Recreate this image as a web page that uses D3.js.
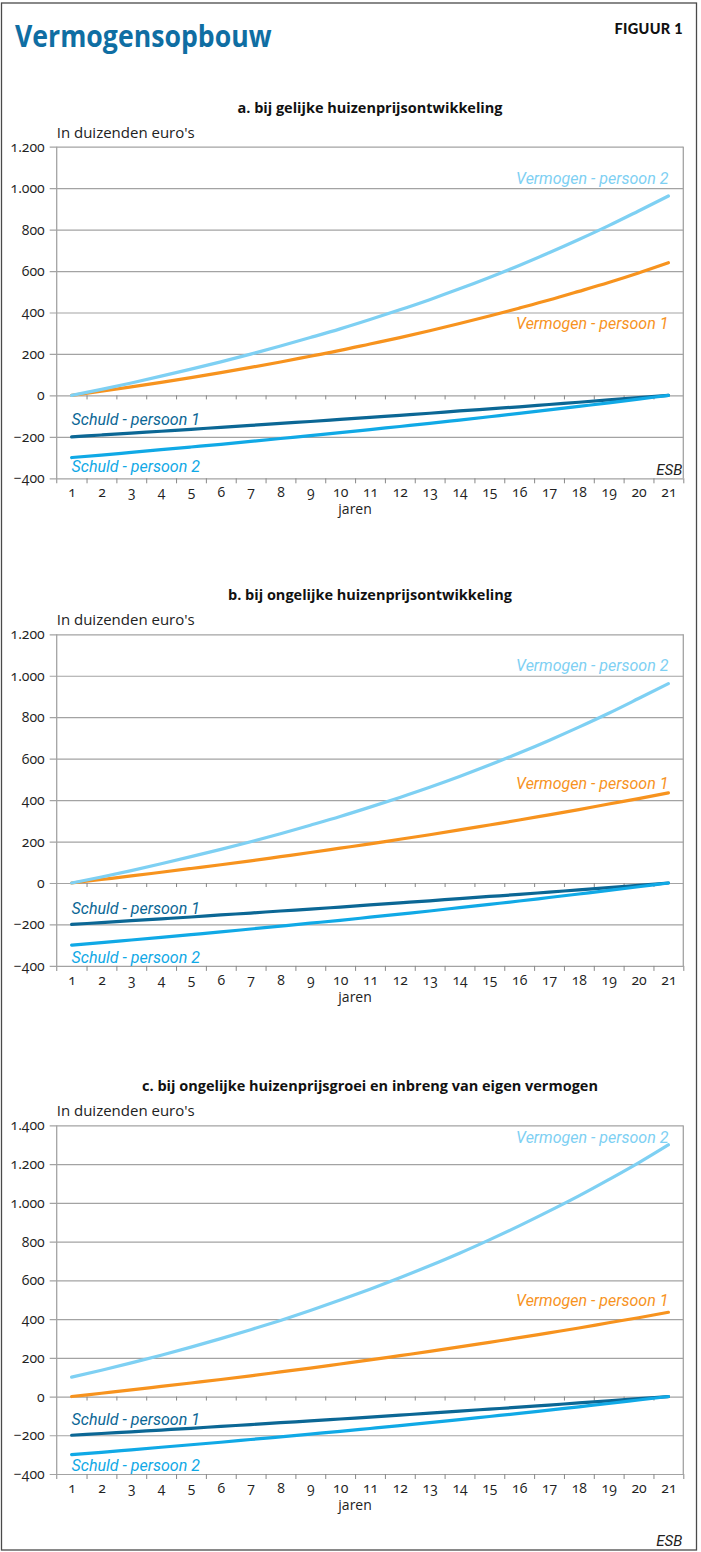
<!DOCTYPE html>
<html>
<head>
<meta charset="utf-8">
<script src="https://cdn.jsdelivr.net/npm/d3@7"></script>
<style>
  body { margin: 0; background: #fff; }
  svg { display: block; }
  .lbl { font-family: "Roboto", sans-serif; font-style: italic; font-size: 16px; }
  .num { font-variant-numeric: oldstyle-nums; font-feature-settings: "onum" 1; }
</style>
</head>
<body>
<div id="chart"></div>
<script>
// years on the x axis
const years = [1, 2, 3, 4, 5, 6, 7, 8, 9, 10, 11, 12, 13, 14, 15, 16, 17, 18, 19, 20, 21];

// values in thousands of euros
const vermogen2AB = [0, 29, 60, 93, 127, 162, 199, 238, 279, 321, 366, 413, 462, 514, 569, 627, 688, 752, 819, 890, 962];
const vermogen1A  = [0, 20, 41, 63, 86, 110, 135, 161, 189, 217, 248, 279, 312, 347, 383, 421, 460, 502, 545, 591, 640];
const vermogen1BC = [0, 17, 34, 52, 70, 88, 107, 127, 147, 168, 189, 211, 233, 256, 280, 304, 329, 354, 381, 407, 435];
const vermogen2C  = [100, 136, 174, 213, 255, 299, 345, 393, 444, 498, 554, 613, 675, 740, 809, 881, 957, 1036, 1120, 1207, 1300];
const schuld1     = [-200, -191, -182, -173, -164, -154, -145, -135, -126, -116, -106, -96, -86, -75, -65, -55, -44, -33, -22, -11, 0];
const schuld2     = [-300, -288, -275, -262, -249, -236, -222, -208, -194, -180, -165, -150, -135, -119, -103, -87, -70, -53, -36, -18, 0];

const ticksAB = [-400, -200, 0, 200, 400, 600, 800, 1000, 1200];
const ticksC  = [-400, -200, 0, 200, 400, 600, 800, 1000, 1200, 1400];

const colors = {
    v2: "#7ed0f3",
    v1: "#f7931e",
    s1: "#0b6795",
    s2: "#10a9e6"
};

const panels = [
    {
        title: "a. bij gelijke huizenprijsontwikkeling",
        top: 146.7, height: 331.6, ticks: ticksAB,
        series: [
            { key: "v1", values: vermogen1A, label: "Vermogen - persoon 1", at: 320, end: true },
            { key: "v2", values: vermogen2AB, label: "Vermogen - persoon 2", at: 1020, end: true },
            { key: "s1", values: schuld1, label: "Schuld - persoon 1", at: -144 },
            { key: "s2", values: schuld2, label: "Schuld - persoon 2", at: -372 }
        ],
        esb: true
    },
    {
        title: "b. bij ongelijke huizenprijsontwikkeling",
        top: 634.3, height: 331.6, ticks: ticksAB,
        series: [
            { key: "v1", values: vermogen1BC, label: "Vermogen - persoon 1", at: 453, end: true },
            { key: "v2", values: vermogen2AB, label: "Vermogen - persoon 2", at: 1025, end: true },
            { key: "s1", values: schuld1, label: "Schuld - persoon 1", at: -148 },
            { key: "s2", values: schuld2, label: "Schuld - persoon 2", at: -385 }
        ]
    },
    {
        title: "c. bij ongelijke huizenprijsgroei en inbreng van eigen vermogen",
        top: 1125.4, height: 348.6, ticks: ticksC,
        series: [
            { key: "v1", values: vermogen1BC, label: "Vermogen - persoon 1", at: 470, end: true },
            { key: "v2", values: vermogen2C, label: "Vermogen - persoon 2", at: 1310, end: true },
            { key: "s1", values: schuld1, label: "Schuld - persoon 1", at: -146 },
            { key: "s2", values: schuld2, label: "Schuld - persoon 2", at: -387 }
        ]
    }
];

const width = 701, height = 1552;
const left = 56.7, right = 683.3;
const gridColor = "#a3a3a3";

const nl = d3.formatLocale({ decimal: ",", thousands: ".", grouping: [3], currency: ["€", ""], minus: "\u2212" });
const fmt = nl.format(",d");

const svg = d3.select("#chart").append("svg")
    .attr("width", width)
    .attr("height", height);

// outer frame
svg.append("rect")
    .attr("x", 1.5).attr("y", 3)
    .attr("width", 695).attr("height", 1547)
    .attr("fill", "none")
    .attr("stroke", "#4a4a4a")
    .attr("stroke-width", 1.3);

// title, squeezed a little to look condensed
svg.append("text")
    .attr("transform", "translate(15,47) scale(0.86,1)")
    .attr("fill", "#0f6ea3")
    .style("font-family", "'Open Sans', sans-serif")
    .style("font-weight", 700)
    .style("font-size", "31px")
    .text("Vermogensopbouw");

svg.append("text")
    .attr("x", 683).attr("y", 34)
    .attr("text-anchor", "end")
    .attr("fill", "#111")
    .style("font-family", "Lato, sans-serif")
    .style("font-weight", 900)
    .style("font-size", "14.5px")
    .style("letter-spacing", "0.3px")
    .text("FIGUUR 1");

const x = d3.scaleLinear().domain([0.5, 21.5]).range([left, right]);
const boundaries = [0.5].concat(years.map(d => d + 0.5));

panels.forEach(p => {
    const top = p.top, bottom = p.top + p.height;
    const y = d3.scaleLinear()
        .domain([d3.min(p.ticks), d3.max(p.ticks)])
        .range([bottom, top]);

    const g = svg.append("g");

    // panel title and unit
    g.append("text")
        .attr("x", (left + right) / 2).attr("y", top - 34)
        .attr("text-anchor", "middle")
        .attr("fill", "#111")
        .style("font-family", "'Open Sans', sans-serif")
        .style("font-weight", 700)
        .style("font-size", "14.5px")
        .text(p.title);

    g.append("text")
        .attr("x", left).attr("y", top - 9)
        .attr("fill", "#222")
        .style("font-family", "'Open Sans', sans-serif")
        .style("font-size", "15px")
        .text("In duizenden euro's");

    // horizontal gridlines + y labels
    const yAxis = g.append("g")
        .attr("transform", `translate(${left},0)`)
        .call(d3.axisLeft(y).tickValues(p.ticks).tickSize(-(right - left)).tickPadding(12).tickFormat(fmt));
    yAxis.select(".domain").remove();
    yAxis.selectAll(".tick line")
        .attr("x1", -7)
        .attr("stroke", gridColor)
        .attr("stroke-width", 1.2);
    yAxis.selectAll(".tick text")
        .attr("class", "num")
        .attr("fill", "#222")
        .style("font-family", "'Open Sans', sans-serif")
        .style("font-size", "14px");

    // left axis and right border
    g.append("line")
        .attr("x1", left).attr("x2", left)
        .attr("y1", top).attr("y2", bottom + 5)
        .attr("stroke", gridColor).attr("stroke-width", 1.3);
    g.append("line")
        .attr("x1", right).attr("x2", right)
        .attr("y1", top).attr("y2", bottom)
        .attr("stroke", gridColor).attr("stroke-width", 1.3);

    // tick marks on the zero line
    const zeroTicks = g.append("g")
        .attr("transform", `translate(0,${y(0)})`)
        .call(d3.axisBottom(x).tickValues(boundaries.slice(1, -1)).tickSize(4).tickFormat(""));
    zeroTicks.select(".domain").remove();
    zeroTicks.selectAll(".tick line").attr("stroke", "#888");

    // tick marks on the bottom
    const bottomTicks = g.append("g")
        .attr("transform", `translate(0,${bottom})`)
        .call(d3.axisBottom(x).tickValues(boundaries.slice(1)).tickSize(5).tickFormat(""));
    bottomTicks.select(".domain").remove();
    bottomTicks.selectAll(".tick line").attr("stroke", "#888");

    // year labels
    const xLabels = g.append("g")
        .attr("transform", `translate(0,${bottom})`)
        .call(d3.axisBottom(x).tickValues(years).tickSize(0).tickPadding(9).tickFormat(d3.format("d")));
    xLabels.select(".domain").remove();
    xLabels.selectAll(".tick text")
        .attr("class", "num")
        .attr("fill", "#222")
        .style("font-family", "'Open Sans', sans-serif")
        .style("font-size", "14px");

    g.append("text")
        .attr("x", x(10.5)).attr("y", bottom + 36)
        .attr("text-anchor", "middle")
        .attr("fill", "#222")
        .style("font-family", "'Open Sans', sans-serif")
        .style("font-size", "14px")
        .text("jaren");

    // lines
    const line = d3.line()
        .x((d, i) => x(years[i]))
        .y(d => y(d))
        .curve(d3.curveMonotoneX);

    p.series.forEach(s => {
        g.append("path")
            .datum(s.values)
            .attr("d", line)
            .attr("fill", "none")
            .attr("stroke", colors[s.key])
            .attr("stroke-width", 3.2)
            .attr("stroke-linecap", "round");
    });

    // series labels
    p.series.forEach(s => {
        g.append("text")
            .attr("class", "lbl")
            .attr("x", s.end ? x(21) : x(1))
            .attr("y", y(s.at))
            .attr("text-anchor", s.end ? "end" : "start")
            .attr("fill", colors[s.key])
            .text(s.label);
    });

    if (p.esb) {
        g.append("text")
            .attr("x", right - 1).attr("y", bottom - 3)
            .attr("text-anchor", "end")
            .attr("fill", "#222")
            .style("font-family", "Roboto, sans-serif")
            .style("font-style", "italic")
            .style("font-size", "15px")
            .text("ESB");
    }
});

svg.append("text")
    .attr("x", right - 1).attr("y", 1546)
    .attr("text-anchor", "end")
    .attr("fill", "#222")
    .style("font-family", "Roboto, sans-serif")
    .style("font-style", "italic")
    .style("font-size", "15px")
    .text("ESB");
</script>
</body>
</html>
